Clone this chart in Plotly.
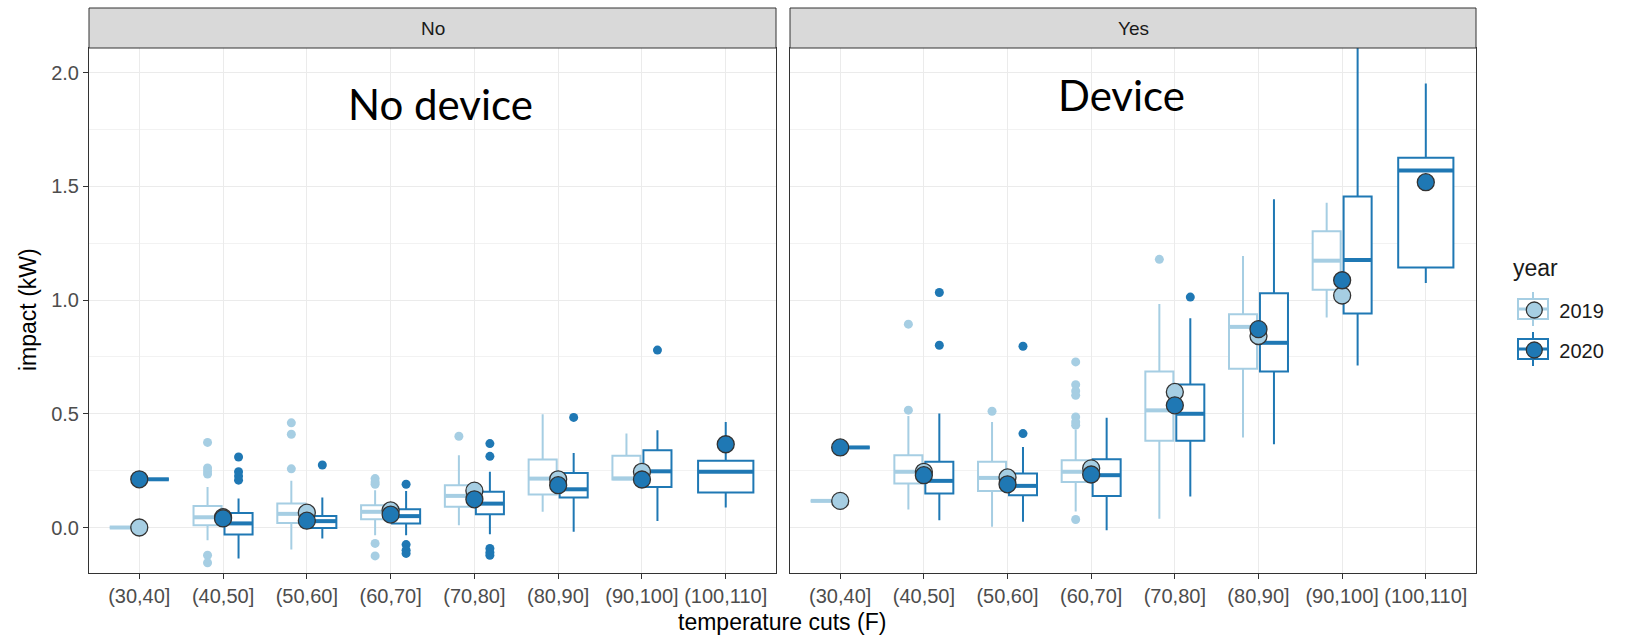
import plotly.graph_objects as go

# ---------------- data ----------------
categories = ["(30,40]", "(40,50]", "(50,60]", "(60,70]", "(70,80]",
              "(80,90]", "(90,100]", "(100,110]"]
years = ["2019", "2020"]
facets = ["No", "Yes"]

# Panel "No" (no device), year 2019
no_2019_q1 = [0.0, 0.010, 0.020, 0.036, 0.091, 0.145, 0.211, None]
no_2019_med = [0.0, 0.045, 0.060, 0.069, 0.139, 0.215, 0.216, None]
no_2019_q3 = [0.0, 0.094, 0.105, 0.098, 0.186, 0.299, 0.315, None]
no_2019_lo = [0.0, -0.056, -0.097, -0.034, 0.010, 0.069, 0.211, None]
no_2019_hi = [0.0, 0.178, 0.205, 0.164, 0.318, 0.498, 0.413, None]
no_2019_mean = [0.0, 0.045, 0.065, 0.075, 0.162, 0.212, 0.245, None]
no_2019_out = [[], [0.374, 0.262, 0.248, 0.235, -0.122, -0.155], [0.46, 0.41, 0.258],
               [0.215, 0.200, 0.190, -0.070, -0.125], [0.401], [], [], []]

# Panel "No", year 2020
no_2020_q1 = [0.212, -0.031, -0.002, 0.018, 0.058, 0.132, 0.178, 0.154]
no_2020_med = [0.212, 0.018, 0.028, 0.050, 0.105, 0.168, 0.247, 0.245]
no_2020_q3 = [0.212, 0.064, 0.051, 0.080, 0.157, 0.240, 0.340, 0.293]
no_2020_lo = [0.212, -0.136, -0.048, -0.034, -0.030, -0.019, 0.029, 0.088]
no_2020_hi = [0.212, 0.127, 0.132, 0.160, 0.245, 0.328, 0.428, 0.464]
no_2020_mean = [0.212, 0.040, 0.030, 0.057, 0.124, 0.186, 0.211, 0.366]
no_2020_out = [[], [0.31, 0.245, 0.226, 0.208], [0.275], [0.19, -0.075, -0.100, -0.114],
               [0.369, 0.313, -0.092, -0.110, -0.122], [0.484], [0.78], []]

# Panel "Yes" (device), year 2019
yes_2019_q1 = [0.117, 0.193, 0.161, 0.200, 0.381, 0.698, 1.045, None]
yes_2019_med = [0.117, 0.245, 0.218, 0.245, 0.515, 0.882, 1.173, None]
yes_2019_q3 = [0.117, 0.318, 0.289, 0.296, 0.686, 0.938, 1.302, None]
yes_2019_lo = [0.117, 0.079, 0.003, 0.070, 0.039, 0.396, 0.923, None]
yes_2019_hi = [0.117, 0.490, 0.464, 0.430, 0.983, 1.194, 1.428, None]
yes_2019_mean = [0.117, 0.245, 0.220, 0.260, 0.596, 0.842, 1.020, None]
yes_2019_out = [[], [0.894, 0.516], [0.511],
                [0.728, 0.628, 0.600, 0.581, 0.486, 0.464, 0.450, 0.035],
                [1.179], [], [], []]

# Panel "Yes", year 2020
yes_2020_q1 = [0.352, 0.149, 0.142, 0.138, 0.381, 0.686, 0.941, 1.143]
yes_2020_med = [0.352, 0.205, 0.183, 0.230, 0.500, 0.812, 1.176, 1.570]
yes_2020_q3 = [0.352, 0.289, 0.237, 0.300, 0.629, 1.030, 1.455, 1.625]
yes_2020_lo = [0.352, 0.032, 0.025, -0.012, 0.136, 0.366, 0.712, 1.075]
yes_2020_hi = [0.352, 0.501, 0.354, 0.483, 0.920, 1.443, 2.300, 1.952]
yes_2020_mean = [0.352, 0.230, 0.190, 0.233, 0.537, 0.872, 1.087, 1.518]
yes_2020_out = [[], [1.033, 0.801], [0.797, 0.413], [], [1.013], [], [], []]

y_ticks = [0.0, 0.5, 1.0, 1.5, 2.0]
panel_labels = {"No": "No device", "Yes": "Device"}

stats = {
    ("No", "2019"): dict(q1=no_2019_q1, med=no_2019_med, q3=no_2019_q3, lo=no_2019_lo,
                         hi=no_2019_hi, mean=no_2019_mean, out=no_2019_out),
    ("No", "2020"): dict(q1=no_2020_q1, med=no_2020_med, q3=no_2020_q3, lo=no_2020_lo,
                         hi=no_2020_hi, mean=no_2020_mean, out=no_2020_out),
    ("Yes", "2019"): dict(q1=yes_2019_q1, med=yes_2019_med, q3=yes_2019_q3, lo=yes_2019_lo,
                          hi=yes_2019_hi, mean=yes_2019_mean, out=yes_2019_out),
    ("Yes", "2020"): dict(q1=yes_2020_q1, med=yes_2020_med, q3=yes_2020_q3, lo=yes_2020_lo,
                          hi=yes_2020_hi, mean=yes_2020_mean, out=yes_2020_out),
}

# ---------------- style ----------------
colors = {"2019": "#a6cee3", "2020": "#1f78b4"}
DODGE = 0.185
W_PAIR = 0.335
W_SINGLE = 0.66
FONT = "Liberation Sans"
GRID = "#ebebeb"
BORDER = "#333333"

fig = go.Figure()

for fi, facet in enumerate(facets):
    xa = "x" if fi == 0 else "x2"
    ya = "y" if fi == 0 else "y2"
    for i in range(len(categories)):
        avail = [yr for yr in years if stats[(facet, yr)]["q1"][i] is not None]
        n = len(avail)
        for yr in avail:
            s = stats[(facet, yr)]
            off = 0.0 if n == 1 else (-DODGE if yr == "2019" else DODGE)
            w = W_SINGLE if n == 1 else W_PAIR
            pos = i + 1 + off
            fig.add_trace(go.Box(
                x=[pos], q1=[s["q1"][i]], median=[s["med"][i]], q3=[s["q3"][i]],
                lowerfence=[s["lo"][i]], upperfence=[s["hi"][i]],
                width=w, whiskerwidth=0, boxpoints=False,
                fillcolor="white", line=dict(color=colors[yr], width=2),
                xaxis=xa, yaxis=ya, showlegend=False, hoverinfo="skip"))
            # thicker median line (ggplot style)
            fig.add_trace(go.Scatter(
                x=[pos - w / 2, pos + w / 2], y=[s["med"][i], s["med"][i]],
                mode="lines", line=dict(color=colors[yr], width=4),
                xaxis=xa, yaxis=ya, showlegend=False, hoverinfo="skip"))
            if s["out"][i]:
                fig.add_trace(go.Scatter(
                    x=[pos] * len(s["out"][i]), y=s["out"][i], mode="markers",
                    marker=dict(color=colors[yr], size=9, line=dict(width=0)),
                    xaxis=xa, yaxis=ya, showlegend=False, hoverinfo="skip"))
    # mean points at the category centre
    for yr in years:
        s = stats[(facet, yr)]
        xs = [i + 1 for i in range(len(categories)) if s["mean"][i] is not None]
        ys = [m for m in s["mean"] if m is not None]
        fig.add_trace(go.Scatter(
            x=xs, y=ys, mode="markers",
            marker=dict(color=colors[yr], size=17, line=dict(color=BORDER, width=1.3)),
            xaxis=xa, yaxis=ya, showlegend=False, hoverinfo="skip"))

# legend entries
for yr in years:
    fig.add_trace(go.Scatter(
        x=[None], y=[None], mode="markers", name=yr, legendgroup=yr,
        marker=dict(color=colors[yr], size=17, symbol="circle",
                    line=dict(color=BORDER, width=1.3)),
        xaxis="x", yaxis="y", showlegend=True))

# ---------------- layout ----------------
L, R, T, B = 89, 152, 8, 62
W, H = 1628, 635
pw = W - L - R
ph = H - T - B
panel_top = 48
ytop = (H - B - panel_top) / ph
x1_end = (776 - L) / pw
x2_start = (790 - L) / pw


def px_x(px):
    return (px - L) / pw


def px_y(py):
    return (H - B - py) / ph


axis_common = dict(
    range=[0.4, 8.6], tickvals=list(range(1, len(categories) + 1)), ticktext=categories,
    showgrid=True, gridcolor=GRID, gridwidth=1.2, zeroline=False,
    ticks="outside", ticklen=5, tickwidth=1, tickcolor=BORDER,
    showline=True, mirror=True, linecolor=BORDER, linewidth=1,
    tickfont=dict(family=FONT, size=20, color="#4d4d4d"), fixedrange=True,
)
fig.update_layout(
    width=W, height=H, margin=dict(l=L, r=R, t=T, b=B, pad=0),
    plot_bgcolor="white", paper_bgcolor="white", boxmode="overlay",
    font=dict(family=FONT, color="#1a1a1a"),
    xaxis=dict(domain=[0, x1_end], anchor="y", **axis_common),
    xaxis2=dict(domain=[x2_start, 1], anchor="y2", **axis_common),
    yaxis=dict(domain=[0, ytop], range=[-0.2, 2.108], tickvals=y_ticks,
               ticktext=[f"{v:.1f}" for v in y_ticks],
               showgrid=True, gridcolor=GRID, gridwidth=1.2, zeroline=False,
               minor=dict(tickvals=[0.25, 0.75, 1.25, 1.75], showgrid=True,
                          gridcolor="#f2f2f2", gridwidth=1, ticklen=0),
               ticks="outside", ticklen=5, tickcolor=BORDER,
               showline=True, mirror=True, linecolor=BORDER, linewidth=1,
               tickfont=dict(family=FONT, size=20, color="#4d4d4d"), anchor="x"),
    yaxis2=dict(domain=[0, ytop], matches="y", range=[-0.2, 2.108], tickvals=y_ticks,
                showticklabels=False, ticks="",
                showgrid=True, gridcolor=GRID, gridwidth=1.2, zeroline=False,
                minor=dict(tickvals=[0.25, 0.75, 1.25, 1.75], showgrid=True,
                           gridcolor="#f2f2f2", gridwidth=1, ticklen=0),
                showline=True, mirror=True, linecolor=BORDER, linewidth=1, anchor="x2"),
    legend=dict(x=1.024, y=0.500, xanchor="left", yanchor="top",
                font=dict(family=FONT, size=20, color="#1a1a1a"),
                bgcolor="rgba(0,0,0,0)", tracegroupgap=11, itemwidth=40),
    showlegend=True,
)

# facet strips
shapes = []
annotations = []
for fi, facet in enumerate(facets):
    x0, x1 = (0, x1_end) if fi == 0 else (x2_start, 1)
    shapes.append(dict(type="rect", xref="paper", yref="paper", x0=x0, x1=x1,
                       y0=ytop, y1=1.0, fillcolor="#d9d9d9",
                       line=dict(color=BORDER, width=1), layer="above"))
    annotations.append(dict(text=facet, xref="paper", yref="paper",
                            x=(x0 + x1) / 2, y=(ytop + 1) / 2, showarrow=False,
                            font=dict(family=FONT, size=19, color="#1a1a1a"),
                            xanchor="center", yanchor="middle"))

# box glyphs behind legend circles (ggplot-style legend keys)
legend_key_y = {"2019": 309, "2020": 349}
key_cx = 1533
for yr in years:
    cy = legend_key_y[yr]
    shapes.append(dict(type="line", xref="paper", yref="paper",
                       x0=px_x(key_cx), x1=px_x(key_cx), y0=px_y(cy - 17), y1=px_y(cy + 17),
                       line=dict(color=colors[yr], width=2)))
    shapes.append(dict(type="rect", xref="paper", yref="paper",
                       x0=px_x(key_cx - 15), x1=px_x(key_cx + 15),
                       y0=px_y(cy + 10), y1=px_y(cy - 10),
                       fillcolor="white", line=dict(color=colors[yr], width=2)))
    shapes.append(dict(type="line", xref="paper", yref="paper",
                       x0=px_x(key_cx - 15), x1=px_x(key_cx + 15), y0=px_y(cy), y1=px_y(cy),
                       line=dict(color=colors[yr], width=3)))

# legend title
annotations.append(dict(text="year", xref="paper", yref="paper",
                        x=px_x(1511), y=px_y(268), showarrow=False,
                        font=dict(family=FONT, size=23, color="#1a1a1a"),
                        xanchor="left", yanchor="middle"))
# panel labels
annotations.append(dict(text=panel_labels["No"], xref="x", yref="y", x=4.59, y=1.86,
                        showarrow=False, font=dict(family="Lato", size=42, color="black"),
                        xanchor="center", yanchor="middle"))
annotations.append(dict(text=panel_labels["Yes"], xref="x2", yref="y2", x=4.36, y=1.90,
                        showarrow=False, font=dict(family="Lato", size=42, color="black"),
                        xanchor="center", yanchor="middle"))
# axis titles
annotations.append(dict(text="temperature cuts (F)", xref="paper", yref="paper",
                        x=px_x(782), y=px_y(622), showarrow=False,
                        font=dict(family=FONT, size=23, color="black"),
                        xanchor="center", yanchor="middle"))
annotations.append(dict(text="impact (kW)", xref="paper", yref="paper",
                        x=px_x(28), y=px_y(310), showarrow=False,
                        textangle=-90, font=dict(family=FONT, size=23, color="black"),
                        xanchor="center", yanchor="middle"))

fig.update_layout(shapes=shapes, annotations=annotations)
fig.write_html("out.html")
